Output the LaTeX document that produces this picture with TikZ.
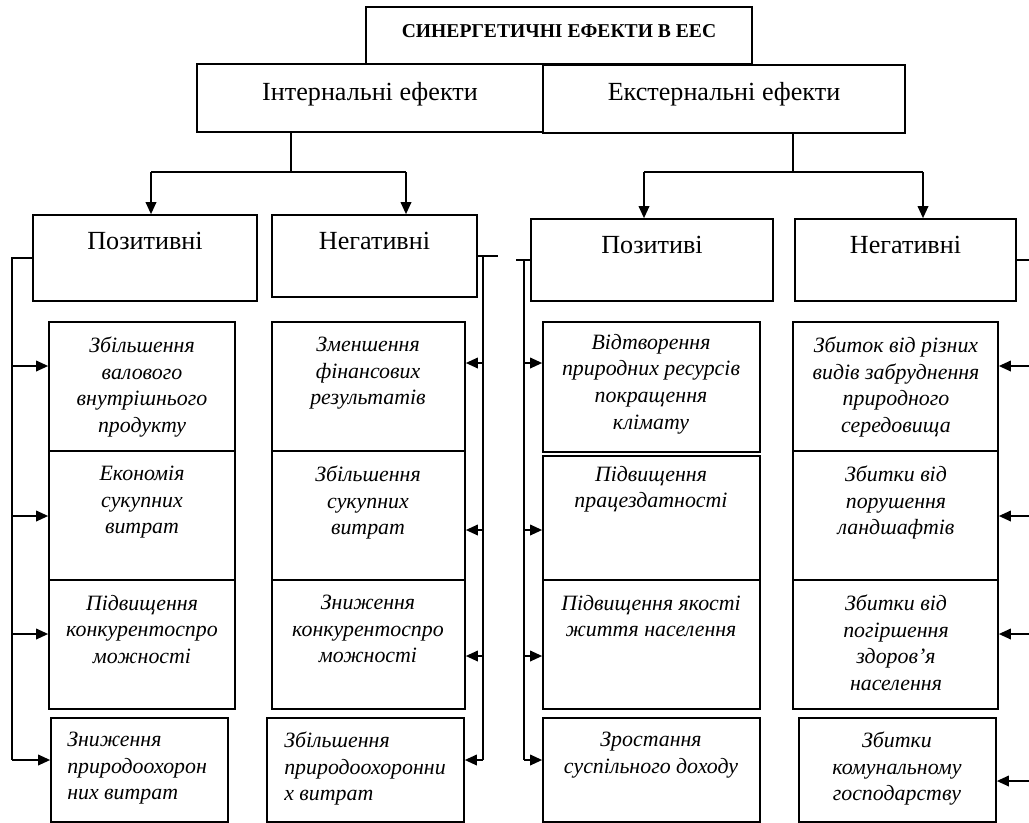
\documentclass[tikz,border=0pt]{standalone}
\usepackage{fontspec}
\setmainfont{Liberation Serif}
\usetikzlibrary{arrows.meta,fit}

\begin{document}
\begin{tikzpicture}[x=0.75pt,y=0.75pt,yscale=-1,xscale=1,
  cell/.style={draw, line width=1.3pt, inner sep=0pt},
  link/.style={line width=1.1pt},
  arr/.style={link, -{Triangle[length=9pt,width=8pt]}},
  hdr/.style={font=\bfseries\fontsize{14.7pt}{17pt}\selectfont, inner sep=0pt, anchor=north},
  big/.style={font=\fontsize{19.6pt}{24pt}\selectfont, inner sep=0pt, anchor=north},
  itx/.style={font=\itshape\fontsize{16.4pt}{19.9pt}\selectfont, inner sep=0pt, anchor=north, align=center},
  itl/.style={itx, anchor=north west, align=left}]
\useasboundingbox (0,0) rectangle (1029,822);
%Shape: Rectangle
\node[cell, fit={(366,7) (752,64)}] (syn) {};
\node[cell, fit={(197,64) (543,132)}] (intl) {};
\node[cell, fit={(543,65) (905,133)}] (extl) {};
%Shape: Rectangle
\node[cell, fit={(33,215) (257,301)}] (ipos) {};
\node[cell, fit={(272,215) (477,297)}] (ineg) {};
\node[cell, fit={(531,219) (773,301)}] (epos) {};
\node[cell, fit={(795,219) (1016,301)}] (eneg) {};
%Shape: Rectangle
\node[cell, fit={(49,322) (235,451)}] (ip1) {};
\node[cell, fit={(49,451) (235,580)}] (ip2) {};
\node[cell, fit={(49,580) (235,709)}] (ip3) {};
\node[cell, fit={(51,718) (228,822)}] (ip4) {};
%Shape: Rectangle
\node[cell, fit={(272,322) (465,451)}] (in1) {};
\node[cell, fit={(272,451) (465,580)}] (in2) {};
\node[cell, fit={(272,580) (465,709)}] (in3) {};
\node[cell, fit={(267,718) (464,822)}] (in4) {};
%Shape: Rectangle
\node[cell, fit={(543,322) (760,452)}] (ep1) {};
\node[cell, fit={(543,456) (760,580)}] (ep2) {};
\node[cell, fit={(543,580) (760,709)}] (ep3) {};
\node[cell, fit={(543,718) (760,822)}] (ep4) {};
%Shape: Rectangle
\node[cell, fit={(793,322) (998,451)}] (en1) {};
\node[cell, fit={(793,451) (998,580)}] (en2) {};
\node[cell, fit={(793,580) (998,709)}] (en3) {};
\node[cell, fit={(799,718) (996,822)}] (en4) {};

%Straight Lines
\coordinate (ij) at (291,172);
\coordinate (ia) at (151,172);
\coordinate (ib) at (406,172);
\draw[link] (intl.south -| ij) -- (ij);
\draw[link] (ia) -- (ib);
\draw[arr] (ia) -- (ia |- ipos.north);
\draw[arr] (ib) -- (ib |- ineg.north);
%Straight Lines
\coordinate (ej) at (793,172);
\coordinate (ec) at (644,172);
\coordinate (ed) at (923,172);
\draw[link] (extl.south -| ej) -- (ej);
\draw[link] (ec) -- (ed);
\draw[arr] (ec) -- (ec |- epos.north);
\draw[arr] (ed) -- (ed |- eneg.north);

%Straight Lines
\coordinate (lb) at (12,760);
\draw[link] (ipos.west) -- (ipos.west -| lb) -- (lb);
\coordinate (l1) at (12,366);
\coordinate (l2) at (12,516);
\coordinate (l3) at (12,634);
\coordinate (l4) at (12,760);
\draw[arr] (l1) -- (l1 -| ip1.west);
\draw[arr] (l2) -- (l2 -| ip2.west);
\draw[arr] (l3) -- (l3 -| ip3.west);
\draw[arr] (l4) -- (l4 -| ip4.west);
%Straight Lines
\coordinate (mb) at (483,760);
\draw[link] (ineg.east) -- ++(20,0);
\draw[link] (ineg.east -| mb) -- (mb);
\coordinate (m1) at (483,363);
\coordinate (m2) at (483,530);
\coordinate (m3) at (483,656);
\coordinate (m4) at (483,760);
\draw[arr] (m1) -- (m1 -| in1.east);
\draw[arr] (m2) -- (m2 -| in2.east);
\draw[arr] (m3) -- (m3 -| in3.east);
\draw[arr] (m4) -- (m4 -| in4.east);
%Straight Lines
\coordinate (nb) at (524,760);
\draw[link] (epos.west) -- ++(-14,0);
\draw[link] (epos.west -| nb) -- (nb);
\coordinate (n1) at (524,363);
\coordinate (n2) at (524,530);
\coordinate (n3) at (524,656);
\coordinate (n4) at (524,760);
\draw[arr] (n1) -- (n1 -| ep1.west);
\draw[arr] (n2) -- (n2 -| ep2.west);
\draw[arr] (n3) -- (n3 -| ep3.west);
\draw[arr] (n4) -- (n4 -| ep4.west);
%Straight Lines
\draw[link] (eneg.east) -- ++(14,0);
\coordinate (r1) at (1029,366);
\coordinate (r2) at (1029,516);
\coordinate (r3) at (1029,634);
\coordinate (r4) at (1029,781);
\draw[arr] (r1) -- (r1 -| en1.east);
\draw[arr] (r2) -- (r2 -| en2.east);
\draw[arr] (r3) -- (r3 -| en3.east);
\draw[arr] (r4) -- (r4 -| en4.east);

% Text Node
\node[hdr] (synt) at (559,24) {СИНЕРГЕТИЧНІ ЕФЕКТИ В ЕЕС};
\node[big] (intlt) at (370,82) {Інтернальні ефекти};
\node[big] (extlt) at (724,82) {Екстернальні ефекти};
% Text Node
\node[big] (ipost) at (145,232) {Позитивні};
\node[big] (inegt) at (374.5,232) {Негативні};
\node[big] (epost) at (652,236) {Позитиві};
\node[big] (enegt) at (905.5,236) {Негативні};
% Text Node
\node[itx] (ip1t) at (142,337) {Збільшення\\валового\\внутрішнього\\продукту};
\node[itx] (ip2t) at (142,466) {Економія\\сукупних\\витрат};
\node[itx] (ip3t) at (142,595) {Підвищення\\конкурентоспро\\можності};
\node[itl] (ip4t) at (67,732) {Зниження\\природоохорон\\них витрат};
% Text Node
\node[itx] (in1t) at (368,337) {Зменшення\\фінансових\\результатів};
\node[itx] (in2t) at (368,466) {Збільшення\\сукупних\\витрат};
\node[itx] (in3t) at (368,595) {Зниження\\конкурентоспро\\можності};
\node[itl] (in4t) at (284,732) {Збільшення\\природоохоронни\\х витрат};
% Text Node
\node[itx] (ep1t) at (651,334) {Відтворення\\природних ресурсів\\покращення\\клімату};
\node[itx] (ep2t) at (651,466) {Підвищення\\працездатності};
\node[itx] (ep3t) at (651,595) {Підвищення якості\\життя населення};
\node[itx] (ep4t) at (651,732) {Зростання\\суспільного доходу};
% Text Node
\node[itx] (en1t) at (896,337) {Збиток від різних\\видів забруднення\\природного\\середовища};
\node[itx] (en2t) at (896,466) {Збитки від\\порушення\\ландшафтів};
\node[itx] (en3t) at (896,595) {Збитки від\\погіршення\\здоров’я\\населення};
\node[itx] (en4t) at (897,732) {Збитки\\комунальному\\господарству};
\end{tikzpicture}
\end{document}
